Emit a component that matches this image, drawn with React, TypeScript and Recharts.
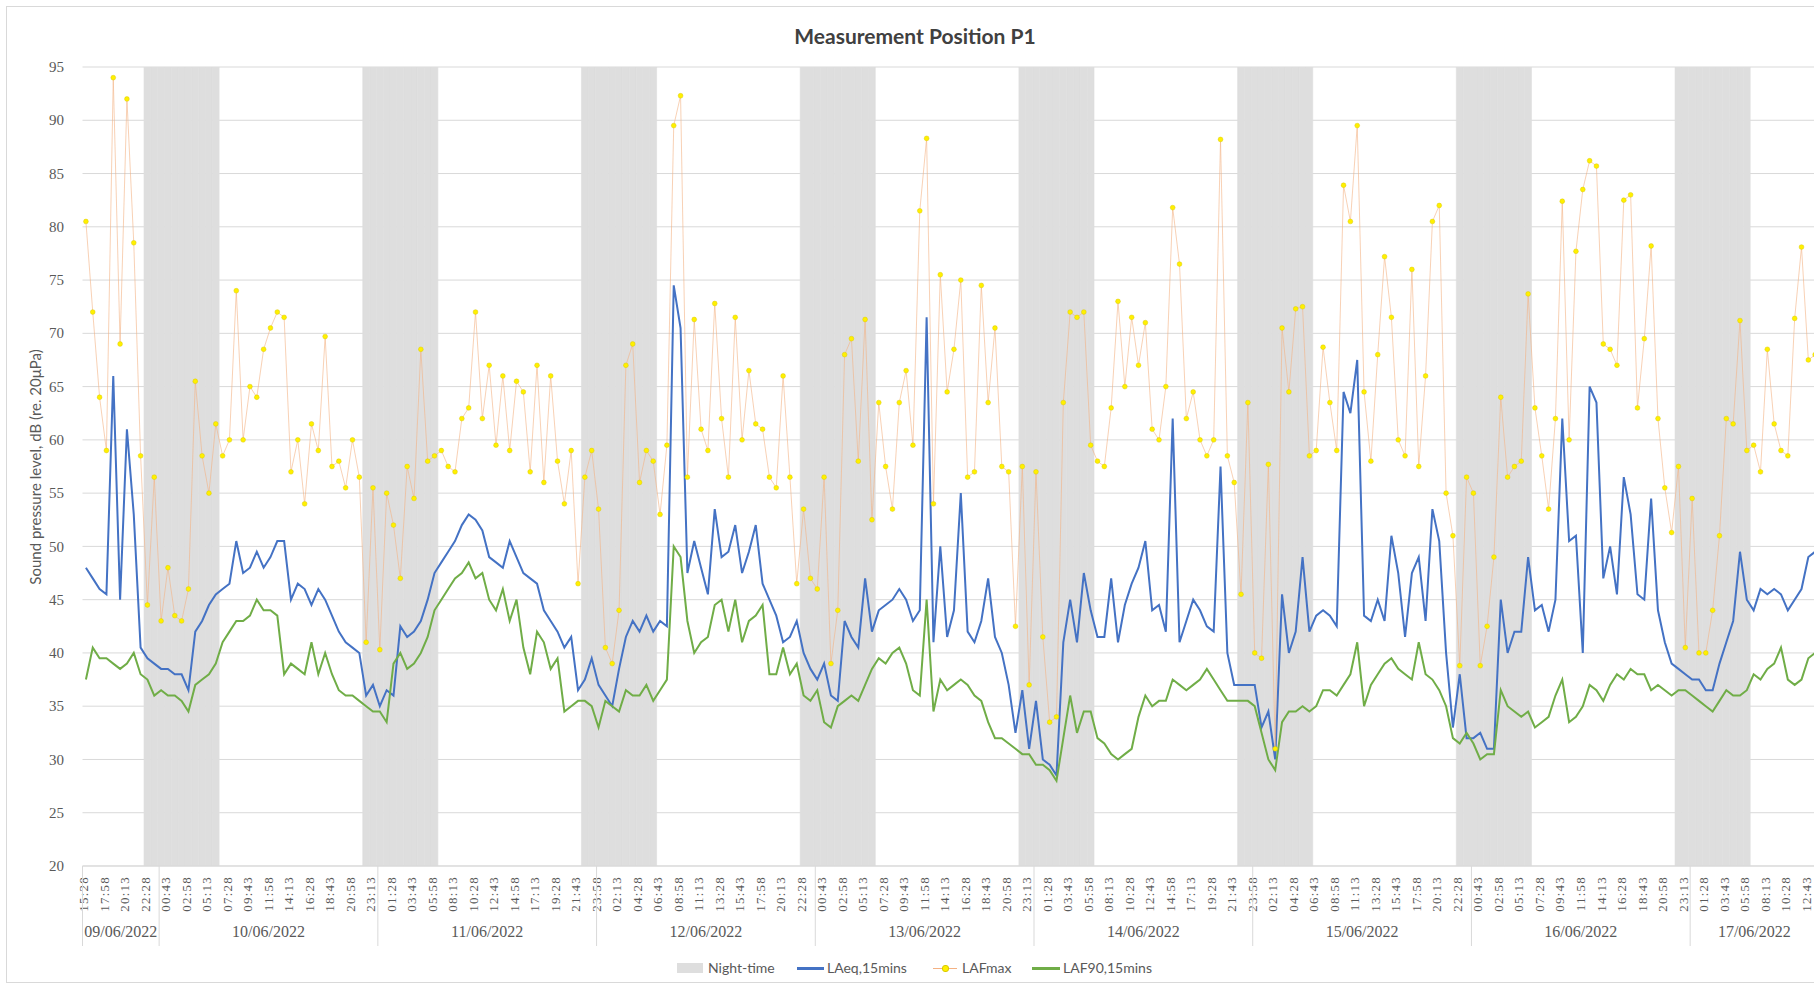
import React from 'react'
import { ComposedChart, Bar, Line, XAxis, YAxis, CartesianGrid } from 'recharts'

// 45-minute slots, starting 09/06/2022 15:43 (first tick is labelled 15:28 in the source)
const START_DAY = 9
const START_MIN = 15 * 60 + 43
const STEP_MIN = 45
const FIRST_TICK_LABEL = '15:28'
const TICK_EVERY = 3
// night-time shading, minute of day (from, to)
const NIGHT_FROM = 22 * 60 + 28
const NIGHT_TO = 6 * 60 + 13

// LAeq,15mins (dB)
const laeq = [
  48, 47, 46, 45.5, 66, 45, 61, 53, 40.5, 39.5,
  39, 38.5, 38.5, 38, 38, 36.5, 42, 43, 44.5, 45.5,
  46, 46.5, 50.5, 47.5, 48, 49.5, 48, 49, 50.5, 50.5,
  45, 46.5, 46, 44.5, 46, 45, 43.5, 42, 41, 40.5,
  40, 36, 37, 35, 36.5, 36, 42.5, 41.5, 42, 43,
  45, 47.5, 48.5, 49.5, 50.5, 52, 53, 52.5, 51.5, 49,
  48.5, 48, 50.5, 49, 47.5, 47, 46.5, 44, 43, 42,
  40.5, 41.5, 36.5, 37.5, 39.5, 37, 36, 35, 38.5, 41.5,
  43, 42, 43.5, 42, 43, 42.5, 74.5, 70.5, 47.5, 50.5,
  48, 45.5, 53.5, 49, 49.5, 52, 47.5, 49.5, 52, 46.5,
  45, 43.5, 41, 41.5, 43, 40, 38.5, 37.5, 39, 36,
  35.5, 43, 41.5, 40.5, 47, 42, 44, 44.5, 45, 46,
  45, 43, 44, 71.5, 41, 50, 41.5, 44, 55, 42,
  41, 43, 47, 41.5, 40, 37, 32.5, 36.5, 31, 35.5,
  30, 29.5, 28.5, 41, 45, 41, 47.5, 44, 41.5, 41.5,
  47, 41, 44.5, 46.5, 48, 50.5, 44, 44.5, 42, 62,
  41, 43, 45, 44, 42.5, 42, 57.5, 40, 37, 37,
  37, 37, 33, 34.5, 30, 45.5, 40, 42, 49, 42,
  43.5, 44, 43.5, 42.5, 64.5, 62.5, 67.5, 43.5, 43, 45,
  43, 51, 47.5, 41.5, 47.5, 49, 43, 53.5, 50.5, 40,
  33, 38, 32, 32, 32.5, 31, 31, 45, 40, 42,
  42, 49, 44, 44.5, 42, 45, 62, 50.5, 51, 40,
  65, 63.5, 47, 50, 45.5, 56.5, 53, 45.5, 45, 54.5,
  44, 41, 39, 38.5, 38, 37.5, 37.5, 36.5, 36.5, 39,
  41, 43, 49.5, 45, 44, 46, 45.5, 46, 45.5, 44,
  45, 46, 49, 49.5,
]

// LAFmax (dB)
const lafmax = [
  80.5, 72, 64, 59, 94, 69, 92, 78.5, 58.5, 44.5,
  56.5, 43, 48, 43.5, 43, 46, 65.5, 58.5, 55, 61.5,
  58.5, 60, 74, 60, 65, 64, 68.5, 70.5, 72, 71.5,
  57, 60, 54, 61.5, 59, 69.7, 57.5, 58, 55.5, 60,
  56.5, 41, 55.5, 40.3, 55, 52, 47, 57.5, 54.5, 68.5,
  58, 58.5, 59, 57.5, 57, 62, 63, 72, 62, 67,
  59.5, 66, 59, 65.5, 64.5, 57, 67, 56, 66, 58,
  54, 59, 46.5, 56.5, 59, 53.5, 40.5, 39, 44, 67,
  69, 56, 59, 58, 53, 59.5, 89.5, 92.3, 56.5, 71.3,
  61, 59, 72.8, 62, 56.5, 71.5, 60, 66.5, 61.5, 61,
  56.5, 55.5, 66, 56.5, 46.5, 53.5, 47, 46, 56.5, 39,
  44, 68, 69.5, 58, 71.3, 52.5, 63.5, 57.5, 53.5, 63.5,
  66.5, 59.5, 81.5, 88.3, 54, 75.5, 64.5, 68.5, 75, 56.5,
  57, 74.5, 63.5, 70.5, 57.5, 57, 42.5, 57.5, 37, 57,
  41.5, 33.5, 34, 63.5, 72, 71.5, 72, 59.5, 58, 57.5,
  63, 73, 65, 71.5, 67, 71, 61, 60, 65, 81.8,
  76.5, 62, 64.5, 60, 58.5, 60, 88.2, 58.5, 56, 45.5,
  63.5, 40, 39.5, 57.7, 31, 70.5, 64.5, 72.3, 72.5, 58.5,
  59, 68.7, 63.5, 59, 83.9, 80.5, 89.5, 64.5, 58, 68,
  77.2, 71.5, 60, 58.5, 76, 57.5, 66, 80.5, 82, 55,
  51, 38.8, 56.5, 55, 38.8, 42.5, 49, 64, 56.5, 57.5,
  58, 73.7, 63, 58.5, 53.5, 62, 82.4, 60, 77.7, 83.5,
  86.2, 85.7, 69, 68.5, 67, 82.5, 83, 63, 69.5, 78.2,
  62, 55.5, 51.3, 57.5, 40.5, 54.5, 40, 40, 44, 51,
  62, 61.5, 71.2, 59, 59.5, 57, 68.5, 61.5, 59, 58.5,
  71.4, 78.1, 67.5, 68,
]

// LAF90,15mins (dB)
const laf90 = [
  37.5, 40.5, 39.5, 39.5, 39, 38.5, 39, 40, 38, 37.5,
  36, 36.5, 36, 36, 35.5, 34.5, 37, 37.5, 38, 39,
  41, 42, 43, 43, 43.5, 45, 44, 44, 43.5, 38,
  39, 38.5, 38, 41, 38, 40, 38, 36.5, 36, 36,
  35.5, 35, 34.5, 34.5, 33.5, 39, 40, 38.5, 39, 40,
  41.5, 44, 45, 46, 47, 47.5, 48.5, 47, 47.5, 45,
  44, 46, 43, 45, 40.5, 38, 42, 41, 38.5, 39.5,
  34.5, 35, 35.5, 35.5, 35, 33, 35.5, 35, 34.5, 36.5,
  36, 36, 37, 35.5, 36.5, 37.5, 50, 49, 43, 40,
  41, 41.5, 44.5, 45, 42, 45, 41, 43, 43.5, 44.5,
  38, 38, 40.5, 38, 39, 36, 35.5, 36.5, 33.5, 33,
  35, 35.5, 36, 35.5, 37, 38.5, 39.5, 39, 40, 40.5,
  39, 36.5, 36, 45, 34.5, 37.5, 36.5, 37, 37.5, 37,
  36, 35.5, 33.5, 32, 32, 31.5, 31, 30.5, 30.5, 29.5,
  29.5, 29, 28, 32, 36, 32.5, 34.5, 34.5, 32, 31.5,
  30.5, 30, 30.5, 31, 34, 36, 35, 35.5, 35.5, 37.5,
  37, 36.5, 37, 37.5, 38.5, 37.5, 36.5, 35.5, 35.5, 35.5,
  35.5, 35, 32.5, 30, 29, 33.5, 34.5, 34.5, 35, 34.5,
  35, 36.5, 36.5, 36, 37, 38, 41, 35, 37, 38,
  39, 39.5, 38.5, 38, 37.5, 41, 38, 37.5, 36.5, 35,
  32, 31.5, 32.5, 31.5, 30, 30.5, 30.5, 36.5, 35, 34.5,
  34, 34.5, 33, 33.5, 34, 36, 37.5, 33.5, 34, 35,
  37, 36.5, 35.5, 37, 38, 37.5, 38.5, 38, 38, 36.5,
  37, 36.5, 36, 36.5, 36.5, 36, 35.5, 35, 34.5, 35.5,
  36.5, 36, 36, 36.5, 38, 37.5, 38.5, 39, 40.5, 37.5,
  37, 37.5, 39.5, 40,
]

const yTicks = [20, 25, 30, 35, 40, 45, 50, 55, 60, 65, 70, 75, 80, 85, 90, 95]

const TITLE = 'Measurement Position P1'
const Y_TITLE = 'Sound pressure level, dB (re. 20μPa)'

const BLUE = '#4472C4'
const GREEN = '#70AD47'
const NIGHT = '#DEDEDE'
const GRID = '#D9D9D9'
const TEXT = '#595959'
const SERIF = '"Liberation Serif", "DejaVu Serif", serif'
const SANS = 'Lato, "Open Sans", "Noto Sans", sans-serif'

// layout
const CHART_W = 1830
const CHART_H = 986
const PLOT_LEFT = 82.5
const PLOT_TOP = 67
const Y_AXIS_W = 70
const X_AXIS_H = 90
const BOTTOM = 30
const BW = 6.835
const N = laeq.length

const pad = (n: number) => (n < 10 ? '0' + n : '' + n)

const rows = laeq.map((v, i) => {
  const m = START_MIN + i * STEP_MIN
  const day = START_DAY + Math.floor(m / 1440)
  const mod = m % 1440
  const time = i === 0 ? FIRST_TICK_LABEL : `${pad(Math.floor(mod / 60))}:${pad(mod % 60)}`
  const date = `${pad(day)}/06/2022`
  const night = mod >= NIGHT_FROM || mod < NIGHT_TO
  return {
    slot: `${date} ${time}`,
    time,
    date,
    mod,
    night: night ? 95 : null,
    laeq: v,
    lafmax: lafmax[i],
    laf90: laf90[i],
  }
})

// first index of each date and where that date group ends
const dayStarts = rows.map((r, i) => i === 0 || r.date !== rows[i - 1].date)
const nextStart = rows.map((_, i) => {
  for (let j = i + 1; j < rows.length; j++) if (dayStarts[j]) return j
  return -1
})

const YTick = ({ y, payload }: any) => (
  <text x={64} y={y} dy="0.34em" textAnchor="end" fill={TEXT} fontFamily={SERIF} fontSize={15}>
    {payload.value}
  </text>
)

const XTick = (props: any) => {
  const { x, y, payload } = props
  const i: number = payload.index
  const bw = payload.offset ? payload.offset * 2 : BW
  const r = rows[i]
  if (!r) return null
  const sepOf = (j: number, xj: number) =>
    j === 0 ? xj - bw / 2 : xj - ((rows[j].mod + 15) * bw) / STEP_MIN
  const out: React.ReactNode[] = []
  if (i % TICK_EVERY === 0) {
    const lx = x - bw / 3
    out.push(
      <text
        key="t"
        transform={`translate(${lx},${y + 10}) rotate(-90)`}
        textAnchor="end"
        dominantBaseline="central"
        fill={TEXT}
        fontFamily={SERIF}
        fontSize={13}
        letterSpacing={1.2}
      >
        {r.time}
      </text>
    )
  }
  if (dayStarts[i]) {
    const start = sepOf(i, x)
    const j = nextStart[i]
    const end = j < 0 ? x + (N - i - 0.5) * bw : sepOf(j, x + (j - i) * bw)
    out.push(<line key="s" x1={start} x2={start} y1={y} y2={y + 80} stroke={GRID} strokeWidth={1} />)
    out.push(
      <text key="d" x={(start + end) / 2} y={y + 71} textAnchor="middle" fill={TEXT} fontFamily={SERIF} fontSize={16}>
        {r.date}
      </text>
    )
  }
  return <g>{out}</g>
}

const LegendBar = () => (
  <div style={{ position: 'absolute', top: 958, left: 0, width: 1400, height: 20, fontFamily: SANS, fontSize: 14, color: TEXT }}>
    <span style={{ position: 'absolute', left: 677, top: 5, width: 26, height: 10, background: NIGHT }} />
    <span style={{ position: 'absolute', left: 708, top: 1, whiteSpace: 'nowrap' }}>Night-time</span>
    <span style={{ position: 'absolute', left: 797, top: 9, width: 27, height: 2.5, background: BLUE }} />
    <span style={{ position: 'absolute', left: 827, top: 1, whiteSpace: 'nowrap' }}>LAeq,15mins</span>
    <span style={{ position: 'absolute', left: 933, top: 9.5, width: 24, height: 1, background: '#F4B183' }} />
    <span
      style={{
        position: 'absolute', left: 942, top: 7, width: 5, height: 5, borderRadius: 3,
        background: '#FFF000', border: '0.5px solid #D9C800',
      }}
    />
    <span style={{ position: 'absolute', left: 962, top: 1, whiteSpace: 'nowrap' }}>LAFmax</span>
    <span style={{ position: 'absolute', left: 1032, top: 9, width: 28, height: 2.5, background: GREEN }} />
    <span style={{ position: 'absolute', left: 1063, top: 1, whiteSpace: 'nowrap' }}>LAF90,15mins</span>
  </div>
)

export default function App() {
  const marginRight = CHART_W - PLOT_LEFT - N * BW
  return (
    <div style={{ position: 'absolute', left: 0, top: 0, width: 1814, height: 986, overflow: 'hidden', background: '#fff' }}>
      <div
        style={{
          position: 'absolute', left: 6, top: 6, width: CHART_W, height: 977,
          border: `1px solid ${GRID}`, boxSizing: 'border-box',
        }}
      />
      <div
        style={{
          position: 'absolute', left: 0, top: 23, width: CHART_W, textAlign: 'center',
          fontFamily: SANS, fontSize: 21, fontWeight: 700, color: '#404040', lineHeight: '26px',
        }}
      >
        {TITLE}
      </div>
      <div
        style={{
          position: 'absolute', left: 35, top: (PLOT_TOP + CHART_H - BOTTOM - X_AXIS_H) / 2,
          transform: 'translate(-50%, -50%) rotate(-90deg)', whiteSpace: 'nowrap',
          fontFamily: SANS, fontSize: 15, color: TEXT,
        }}
      >
        {Y_TITLE}
      </div>
      <div style={{ position: 'absolute', left: 0, top: 0 }}>
        <ComposedChart
          width={CHART_W}
          height={CHART_H}
          data={rows}
          barCategoryGap={0}
          barGap={0}
          margin={{ top: PLOT_TOP, right: marginRight, bottom: BOTTOM, left: PLOT_LEFT - Y_AXIS_W }}
        >
          <CartesianGrid vertical={false} stroke={GRID} strokeWidth={1} />
          <XAxis
            dataKey="slot"
            interval={0}
            height={X_AXIS_H}
            tickLine={false}
            tickSize={0}
            tickMargin={0}
            axisLine={{ stroke: GRID }}
            tick={<XTick />}
          />
          <YAxis
            width={Y_AXIS_W}
            domain={[20, 95]}
            ticks={yTicks}
            allowDataOverflow
            axisLine={false}
            tickLine={false}
            tick={<YTick />}
          />
          <Bar
            dataKey="night"
            fill={NIGHT}
            stroke={NIGHT}
            strokeWidth={0.6}
            barSize={BW - 0.05}
            isAnimationActive={false}
          />
          <Line
            type="linear"
            dataKey="laeq"
            stroke={BLUE}
            strokeWidth={2}
            dot={false}
            isAnimationActive={false}
          />
          <Line
            type="linear"
            dataKey="lafmax"
            stroke="#F4B183"
            strokeOpacity={0.75}
            strokeWidth={0.8}
            dot={{ r: 2.4, fill: '#FFF000', stroke: '#D9C800', strokeWidth: 0.6 }}
            isAnimationActive={false}
          />
          <Line
            type="linear"
            dataKey="laf90"
            stroke={GREEN}
            strokeWidth={2}
            dot={false}
            isAnimationActive={false}
          />
        </ComposedChart>
      </div>
      <LegendBar />
    </div>
  )
}
